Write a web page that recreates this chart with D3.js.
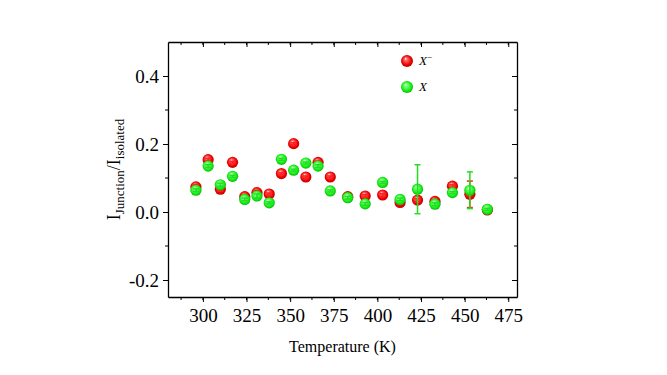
<!DOCTYPE html>
<html>
<head>
<meta charset="utf-8">
<script src="https://cdn.jsdelivr.net/npm/d3@7"></script>
<style>
  body { margin: 0; background: #fff; }
  svg { display: block; }
  text { font-family: "Liberation Serif", "Times New Roman", serif; }
</style>
</head>
<body>
<div id="graph"></div>
<script>
// temperatures (K)
const temps = [296, 303, 310, 317, 324, 331, 338, 345, 352, 359, 366, 373, 383, 393, 403, 413, 423, 433, 443, 453, 463];

// X- (red)
const xMinus = [0.074, 0.154, 0.067, 0.146, 0.045, 0.057, 0.053, 0.113, 0.201, 0.103, 0.146, 0.103, 0.045, 0.047, 0.050, 0.028, 0.035, 0.031, 0.076, 0.052, 0.006];
const xMinusErr = [0.006, 0.004, 0.005, 0.003, 0.004, 0.006, 0.003, 0.003, 0.003, 0.003, 0.004, 0.003, 0.005, 0.004, 0.004, 0.005, 0.004, 0.004, 0.004, 0.039, 0.004];

// X (green)
const xNeutral = [0.064, 0.135, 0.080, 0.105, 0.037, 0.047, 0.027, 0.155, 0.123, 0.144, 0.135, 0.062, 0.042, 0.024, 0.087, 0.037, 0.067, 0.023, 0.057, 0.064, 0.008];
const xNeutralErr = [0.004, 0.004, 0.005, 0.003, 0.004, 0.006, 0.003, 0.003, 0.003, 0.003, 0.004, 0.003, 0.004, 0.004, 0.003, 0.004, 0.072, 0.004, 0.003, 0.054, 0.003];

const xTicks = [300, 325, 350, 375, 400, 425, 450, 475];
const yTicks = [-0.2, 0.0, 0.2, 0.4];

const width = 667;
const height = 375;
const margin = { left: 168, right: 150, top: 42, bottom: 78 };

const svg = d3.select("#graph")
  .append("svg")
    .attr("width", width)
    .attr("height", height);

const x = d3.scaleLinear().domain([280, 480]).range([margin.left, width - margin.right]);
const y = d3.scaleLinear().domain([-0.25, 0.5]).range([height - margin.bottom, margin.top]);

// sphere gradients
const defs = svg.append("defs");
const ball = (id, light, mid, dark) => {
  const g = defs.append("radialGradient")
    .attr("id", id)
    .attr("cx", "50%").attr("cy", "50%").attr("r", "55%")
    .attr("fx", "38%").attr("fy", "30%");
  g.append("stop").attr("offset", "0%").attr("stop-color", "#ffffff");
  g.append("stop").attr("offset", "22%").attr("stop-color", light);
  g.append("stop").attr("offset", "70%").attr("stop-color", mid);
  g.append("stop").attr("offset", "100%").attr("stop-color", dark);
};
ball("redBall", "#ff6a6a", "#f20000", "#b00000");
ball("greenBall", "#80ff80", "#12f012", "#08a808");

// axes
const xMinor = d3.range(287.5, 480, 12.5);
const yMinor = [-0.1, 0.1, 0.3];
const yFmt = d => d3.format(".1f")(d).replace("−", "-");

const xAxis = svg.append("g")
  .attr("transform", `translate(0,${y.range()[0]})`)
  .call(d3.axisBottom(x).tickValues(xTicks).tickSize(5).tickPadding(7).tickSizeOuter(0));
xAxis.append("g").selectAll("line").data(xMinor).join("line")
  .attr("x1", d => x(d)).attr("x2", d => x(d))
  .attr("y1", 0).attr("y2", 3).attr("stroke", "#000");

const yAxis = svg.append("g")
  .attr("transform", `translate(${x.range()[0]},0)`)
  .call(d3.axisLeft(y).tickValues(yTicks).tickFormat(yFmt).tickSize(5).tickPadding(4).tickSizeOuter(0));
yAxis.append("g").selectAll("line").data(yMinor).join("line")
  .attr("y1", d => y(d)).attr("y2", d => y(d))
  .attr("x1", 0).attr("x2", -3).attr("stroke", "#000");

// mirrored top / right ticks (inward)
const topAxis = svg.append("g")
  .attr("transform", `translate(0,${y.range()[1]})`)
  .call(d3.axisTop(x).tickValues(xTicks).tickSize(-5).tickFormat("").tickSizeOuter(0));
topAxis.append("g").selectAll("line").data(xMinor).join("line")
  .attr("x1", d => x(d)).attr("x2", d => x(d))
  .attr("y1", 0).attr("y2", 3).attr("stroke", "#000");

const rightAxis = svg.append("g")
  .attr("transform", `translate(${x.range()[1]},0)`)
  .call(d3.axisRight(y).tickValues(yTicks).tickSize(-5).tickFormat("").tickSizeOuter(0));
rightAxis.append("g").selectAll("line").data(yMinor).join("line")
  .attr("y1", d => y(d)).attr("y2", d => y(d))
  .attr("x1", 0).attr("x2", -3).attr("stroke", "#000");

svg.selectAll(".domain").attr("stroke", "#000").attr("stroke-width", 1.3);
svg.selectAll(".tick line").attr("stroke", "#000");
svg.selectAll(".tick text")
  .attr("font-family", "Liberation Serif, serif")
  .attr("font-size", 19)
  .attr("fill", "#000");

// axis titles
svg.append("text")
  .attr("x", (x.range()[0] + x.range()[1]) / 2)
  .attr("y", 352)
  .attr("text-anchor", "middle")
  .attr("font-size", 16)
  .text("Temperature (K)");

const yl = svg.append("text")
  .attr("transform", `translate(120,${(y.range()[0] + y.range()[1]) / 2}) rotate(-90)`)
  .attr("text-anchor", "middle")
  .attr("font-size", 18);
yl.append("tspan").text("I");
yl.append("tspan").attr("font-size", 13).attr("dy", 4).text("Junction");
yl.append("tspan").attr("dy", -4).text("/I");
yl.append("tspan").attr("font-size", 13).attr("dy", 4).text("isolated");

// series
const series = [
  { name: "X-", vals: xMinus, errs: xMinusErr, fill: "url(#redBall)", bar: "#ff2020" },
  { name: "X", vals: xNeutral, errs: xNeutralErr, fill: "url(#greenBall)", bar: "#22dd22" }
];

const r = 5.6;
series.forEach(s => {
  const g = svg.append("g");
  const pts = temps.map((t, i) => ({ t, v: s.vals[i], e: s.errs[i] }));
  g.selectAll("circle").data(pts).join("circle")
    .attr("cx", d => x(d.t))
    .attr("cy", d => y(d.v))
    .attr("r", r)
    .attr("fill", s.fill);
  const eb = g.append("g").attr("stroke", s.bar).attr("stroke-width", 1.5);
  eb.selectAll("line.v").data(pts).join("line").attr("class", "v")
    .attr("x1", d => x(d.t)).attr("x2", d => x(d.t))
    .attr("y1", d => y(d.v - d.e)).attr("y2", d => y(d.v + d.e));
  eb.selectAll("line.hi").data(pts).join("line").attr("class", "hi")
    .attr("x1", d => x(d.t) - 3).attr("x2", d => x(d.t) + 3)
    .attr("y1", d => y(d.v + d.e)).attr("y2", d => y(d.v + d.e));
  eb.selectAll("line.lo").data(pts).join("line").attr("class", "lo")
    .attr("x1", d => x(d.t) - 3).attr("x2", d => x(d.t) + 3)
    .attr("y1", d => y(d.v - d.e)).attr("y2", d => y(d.v - d.e));
});

// legend
const legend = svg.append("g").attr("transform", "translate(407,61)");
legend.append("circle").attr("r", 6).attr("fill", "url(#redBall)");
const lt1 = legend.append("text").attr("x", 12).attr("y", 4).attr("font-size", 13).attr("font-style", "italic");
lt1.append("tspan").text("X");
lt1.append("tspan").attr("font-size", 9).attr("dy", -5).attr("font-style", "normal").text("−");
legend.append("circle").attr("cy", 26).attr("r", 6).attr("fill", "url(#greenBall)");
legend.append("text").attr("x", 12).attr("y", 30).attr("font-size", 13).attr("font-style", "italic").text("X");
</script>
</body>
</html>
